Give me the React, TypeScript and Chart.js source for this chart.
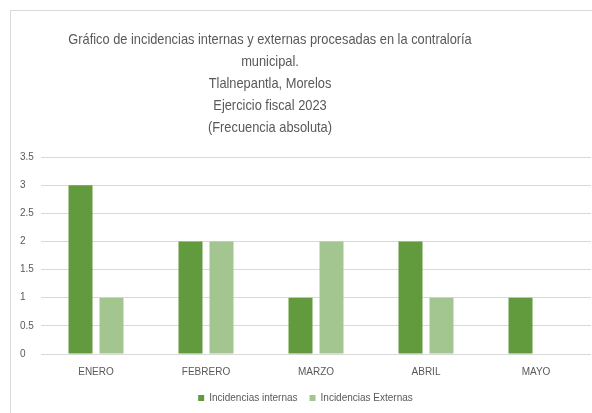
import React, { useEffect, useRef } from "react";
import { Chart, registerables } from "chart.js";

Chart.register(...registerables);

const categories = ["ENERO", "FEBRERO", "MARZO", "ABRIL", "MAYO"];
const internas = [3, 2, 1, 2, 1];
const externas = [1, 2, 2, 1, 0];
const titleLines = [
  "Gráfico de incidencias internas y externas procesadas en la contraloría",
  "municipal.",
  "Tlalnepantla, Morelos",
  "Ejercicio fiscal 2023",
  "(Frecuencia absoluta)",
];
const seriesNames = ["Incidencias internas", "Incidencias Externas"];

const FONT = "'Liberation Sans', Arial, sans-serif";
const TEXT = "#595959";

const titlePlugin = {
  id: "customTitle",
  afterDraw(chart: any) {
    const ctx = chart.ctx;
    ctx.save();
    ctx.fillStyle = TEXT;
    ctx.font = `15px ${FONT}`;
    ctx.textAlign = "center";
    ctx.textBaseline = "middle";
    const sx = 0.855;
    ctx.scale(sx, 1);
    titleLines.forEach((line, i) => {
      ctx.fillText(line, 270 / sx, 40 + i * 22);
    });
    ctx.restore();
  },
};

export default function App() {
  const ref = useRef<HTMLCanvasElement>(null);
  useEffect(() => {
    if (!ref.current) return;
    const chart = new Chart(ref.current, {
      type: "bar",
      data: {
        labels: categories,
        datasets: [
          {
            label: seriesNames[0],
            data: internas,
            backgroundColor: "#629B3D",
            categoryPercentage: 0.5636,
            barPercentage: 0.774,
          },
          {
            label: seriesNames[1],
            data: externas,
            backgroundColor: "#A3C58F",
            categoryPercentage: 0.5636,
            barPercentage: 0.774,
          },
        ],
      },
      options: {
        animation: false,
        responsive: false,
        maintainAspectRatio: false,
        layout: { padding: { top: 157, left: 20, right: 1, bottom: 0 } },
        plugins: {
          title: { display: false },
          tooltip: { enabled: false },
          legend: {
            position: "bottom",
            labels: {
              boxWidth: 6,
              boxHeight: 6,
              padding: 12,
              color: TEXT,
              font: { family: FONT, size: 10 },
            },
          },
        },
        scales: {
          x: {
            grid: { display: false },
            border: { display: false },
            afterFit: (s: any) => {
              s.height = s.height - 1;
            },
            ticks: {
              color: TEXT,
              font: { family: FONT, size: 10 },
              padding: 4,
            },
          },
          y: {
            min: 0,
            max: 3.5,
            afterFit: (s: any) => {
              s.width = 21;
            },
            grid: { color: "#D9D9D9", lineWidth: 1, drawTicks: false },
            border: { display: false },
            ticks: {
              stepSize: 0.5,
              color: TEXT,
              crossAlign: "far",
              padding: 0,
              font: { family: FONT, size: 10 },
              callback: (v: any) => String(v),
            },
          },
        },
      },
      plugins: [titlePlugin],
    });
    return () => chart.destroy();
  }, []);
  return (
    <div
      style={{
        position: "fixed",
        left: 0,
        top: 0,
        width: 592,
        height: 413,
        background: "#fff",
        overflow: "hidden",
      }}
    >
      <div
        style={{
          position: "absolute",
          left: 10,
          top: 10,
          width: 600,
          height: 420,
          borderTop: "1px solid #D9D9D9",
          borderLeft: "1px solid #D9D9D9",
        }}
      />
      <canvas
        ref={ref}
        width={592}
        height={413}
        style={{ position: "absolute", left: 0, top: 0 }}
      />
    </div>
  );
}
